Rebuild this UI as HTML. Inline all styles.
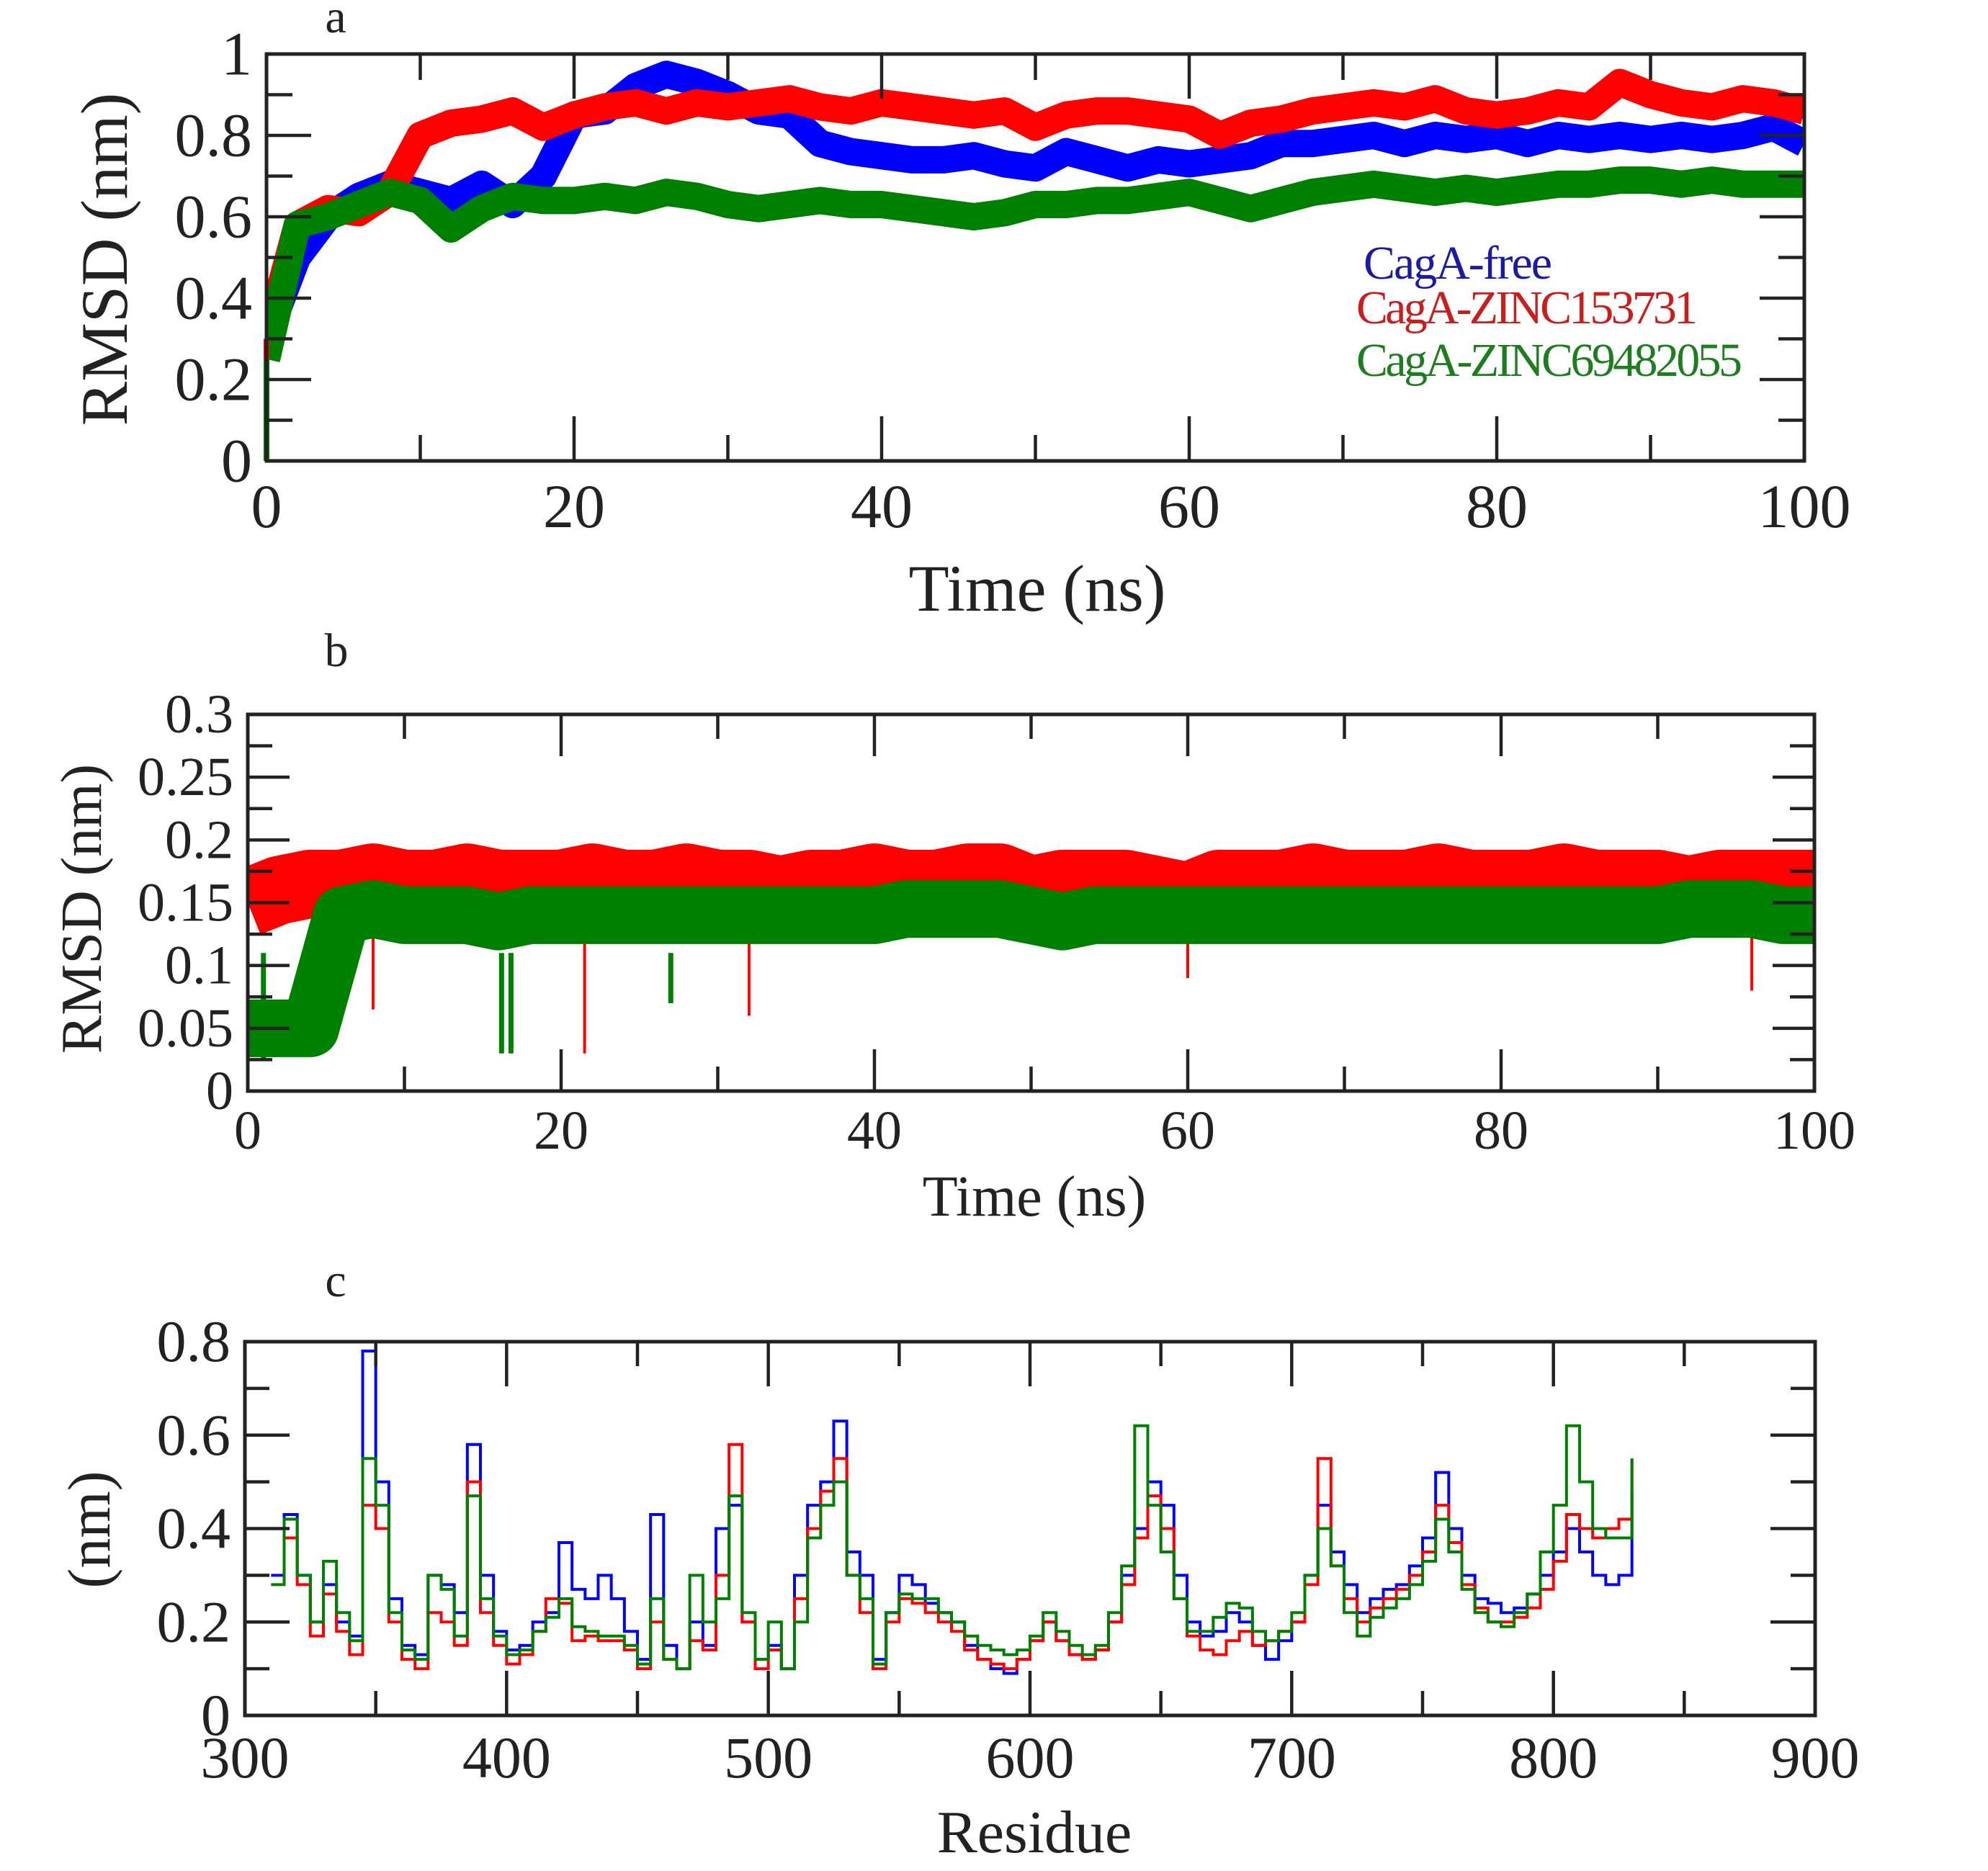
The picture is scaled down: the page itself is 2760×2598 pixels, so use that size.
<!DOCTYPE html>
<html><head><meta charset="utf-8"><style>
html,body{margin:0;padding:0;background:#fff}
svg{display:block}
text{font-family:"Liberation Serif",serif;fill:#222}
</style></head><body>
<svg id="fig" width="2760" height="2598" viewBox="0 0 2760 2598" xmlns="http://www.w3.org/2000/svg">
<rect width="2760" height="2598" fill="#fff"/>
<text x="466" y="45" font-size="66" text-anchor="middle">a</text>
<text x="467" y="925" font-size="66" text-anchor="middle">b</text>
<text x="466" y="1800" font-size="66" text-anchor="middle">c</text>
<text x="1893" y="387" font-size="66" style="fill:#1a1aa6" textLength="262">CagA-free</text>
<text x="1883" y="449" font-size="66" style="fill:#c81e1e" textLength="474">CagA-ZINC153731</text>
<text x="1883" y="522" font-size="66" style="fill:#1e7d1e" textLength="536">CagA-ZINC69482055</text>
</svg>
<script>
// ---------- Panel a data (time every 2 ns) ----------
const timeStepA = 2;
const blueA = [0.30,0.50,0.60,0.65,0.68,0.66,0.64,0.68,0.63,0.70,
 0.85,0.86,0.92,0.95,0.93,0.90,0.86,0.85,0.78,0.76,
 0.75,0.74,0.74,0.75,0.73,0.72,0.76,0.74,0.72,0.74,
 0.73,0.74,0.75,0.78,0.78,0.79,0.80,0.78,0.80,0.79,
 0.80,0.78,0.80,0.79,0.80,0.79,0.80,0.79,0.80,0.82,0.78];
const redA = [0.30,0.58,0.62,0.61,0.66,0.80,0.83,0.84,0.86,0.82,
 0.85,0.87,0.88,0.86,0.88,0.87,0.88,0.89,0.87,0.86,
 0.88,0.87,0.86,0.85,0.86,0.82,0.85,0.86,0.86,0.85,
 0.84,0.80,0.83,0.84,0.86,0.87,0.88,0.87,0.89,0.86,
 0.85,0.86,0.88,0.87,0.93,0.90,0.88,0.87,0.89,0.88,0.86];
const greenA = [0.25,0.58,0.60,0.63,0.66,0.64,0.57,0.62,0.65,0.64,
 0.64,0.65,0.64,0.66,0.65,0.63,0.62,0.63,0.64,0.63,
 0.63,0.62,0.61,0.60,0.61,0.63,0.63,0.64,0.64,0.65,
 0.66,0.64,0.62,0.64,0.66,0.67,0.68,0.67,0.66,0.67,
 0.66,0.67,0.68,0.68,0.69,0.69,0.68,0.69,0.68,0.68,0.68];
const ticksA_x = ["0","20","40","60","80","100"];
const ticksA_y = ["0","0.2","0.4","0.6","0.8","1"];

// ---------- Panel b data ----------
const timeStepB = 2;
const redB = [0.15,0.16,0.165,0.165,0.17,0.165,0.165,0.17,0.165,0.165,
 0.165,0.17,0.165,0.165,0.17,0.165,0.165,0.16,0.165,0.165,
 0.17,0.165,0.165,0.17,0.17,0.16,0.165,0.165,0.165,0.16,
 0.155,0.165,0.165,0.165,0.17,0.165,0.165,0.165,0.17,0.165,
 0.165,0.165,0.17,0.165,0.165,0.165,0.16,0.165,0.165,0.165,0.165];
const greenB = [0.05,0.05,0.05,0.14,0.145,0.14,0.14,0.14,0.135,0.14,
 0.14,0.14,0.14,0.14,0.14,0.14,0.14,0.14,0.14,0.14,
 0.14,0.145,0.145,0.145,0.145,0.14,0.135,0.14,0.14,0.14,
 0.14,0.14,0.14,0.14,0.14,0.14,0.14,0.14,0.14,0.14,
 0.14,0.14,0.14,0.14,0.14,0.14,0.145,0.145,0.145,0.14,0.14];
const redSpikeT = [8,21.5,32,60,96];
const redSpikeV = [0.065,0.03,0.06,0.09,0.08];
const greenSpikeT = [1,16.2,16.8,27];
const greenSpikeV = [0.025,0.03,0.03,0.07];
const ticksB_x = ["0","20","40","60","80","100"];
const ticksB_y = ["0","0.05","0.1","0.15","0.2","0.25","0.3"];

// ---------- Panel c data (residue every 5) ----------
const resStart = 310, resStep = 5;
const blueC = [0.30,0.43,0.30,0.20,0.28,0.20,0.17,0.78,0.50,0.25,
 0.15,0.13,0.30,0.28,0.22,0.58,0.30,0.18,0.14,0.15,
 0.20,0.22,0.37,0.27,0.25,0.30,0.25,0.18,0.12,0.43,
 0.15,0.10,0.20,0.15,0.40,0.45,0.20,0.12,0.15,0.10,
 0.30,0.45,0.50,0.63,0.35,0.30,0.12,0.22,0.30,0.28,
 0.24,0.22,0.20,0.15,0.12,0.10,0.09,0.12,0.16,0.20,
 0.16,0.13,0.12,0.14,0.20,0.30,0.40,0.50,0.45,0.30,
 0.20,0.17,0.18,0.22,0.20,0.15,0.12,0.16,0.20,0.30,
 0.45,0.35,0.28,0.22,0.25,0.27,0.28,0.32,0.38,0.52,
 0.40,0.30,0.25,0.24,0.22,0.23,0.26,0.30,0.35,0.40,
 0.35,0.30,0.28,0.30,0.47];
const redC = [0.40,0.38,0.28,0.17,0.26,0.18,0.13,0.45,0.40,0.20,
 0.12,0.10,0.22,0.20,0.15,0.50,0.22,0.15,0.11,0.13,
 0.18,0.25,0.24,0.16,0.17,0.16,0.16,0.14,0.10,0.20,
 0.12,0.10,0.16,0.14,0.30,0.58,0.20,0.10,0.14,0.10,
 0.25,0.40,0.48,0.55,0.30,0.22,0.10,0.20,0.25,0.24,
 0.22,0.20,0.18,0.14,0.12,0.11,0.10,0.12,0.16,0.20,
 0.16,0.13,0.12,0.14,0.20,0.28,0.38,0.47,0.40,0.25,
 0.17,0.14,0.13,0.16,0.18,0.15,0.16,0.18,0.20,0.28,
 0.55,0.32,0.25,0.20,0.23,0.25,0.27,0.30,0.35,0.45,
 0.37,0.28,0.23,0.20,0.20,0.21,0.23,0.27,0.33,0.43,
 0.40,0.38,0.40,0.42,0.55];
const greenC = [0.28,0.42,0.30,0.20,0.33,0.22,0.16,0.55,0.45,0.22,
 0.14,0.12,0.30,0.27,0.17,0.47,0.25,0.17,0.13,0.14,
 0.18,0.21,0.25,0.19,0.18,0.17,0.17,0.15,0.11,0.25,
 0.12,0.10,0.30,0.20,0.25,0.47,0.22,0.12,0.20,0.10,
 0.20,0.38,0.45,0.50,0.30,0.25,0.11,0.22,0.26,0.25,
 0.25,0.22,0.20,0.17,0.15,0.14,0.13,0.14,0.17,0.22,
 0.18,0.15,0.13,0.15,0.22,0.32,0.62,0.45,0.35,0.25,
 0.18,0.18,0.21,0.24,0.23,0.18,0.16,0.18,0.22,0.30,
 0.40,0.32,0.22,0.17,0.21,0.23,0.25,0.28,0.33,0.42,
 0.35,0.27,0.22,0.20,0.19,0.22,0.26,0.35,0.45,0.62,
 0.50,0.40,0.38,0.38,0.55];
const ticksC_x = ["300","400","500","600","700","800","900"];
const ticksC_y = ["0","0.2","0.4","0.6","0.8"];

const NS = "http://www.w3.org/2000/svg";
const svg = document.getElementById("fig");
function mk(tag, attrs, parent){
  const e = document.createElementNS(NS, tag);
  for (const k in attrs) e.setAttribute(k, attrs[k]);
  (parent||svg).appendChild(e);
  return e;
}
function axes(P){
  const sx = v => P.L + (v - P.x0)/(P.x1 - P.x0)*(P.R - P.L);
  const sy = v => P.B - (v - P.y0)/(P.y1 - P.y0)*(P.B - P.T);
  return {sx, sy};
}
function drawFrame(P, ax, name, xt, yt){
  const g = mk("g", {});
  
  
  for (let v = P.x0; v <= P.x1 + 1e-9; v += P.xminor){
    const major = Math.abs(((v - P.x0)/P.xmajor) - Math.round((v - P.x0)/P.xmajor)) < 1e-6;
    const len = major ? P.maj : P.min;
    const x = ax.sx(v);
    mk("line", {x1:x, y1:P.B, x2:x, y2:P.B-len, stroke:"#222", "stroke-width":4.5}, g);
    mk("line", {x1:x, y1:P.T, x2:x, y2:P.T+len, stroke:"#222", "stroke-width":4.5}, g);
  }
  for (let v = P.y0; v <= P.y1 + 1e-9; v += P.yminor){
    const major = Math.abs(((v - P.y0)/P.ymajor) - Math.round((v - P.y0)/P.ymajor)) < 1e-6;
    const len = major ? P.maj : P.min;
    const y = ax.sy(v);
    mk("line", {x1:P.L, y1:y, x2:P.L+len, y2:y, stroke:"#222", "stroke-width":4.5}, g);
    mk("line", {x1:P.R, y1:y, x2:P.R-len, y2:y, stroke:"#222", "stroke-width":4.5}, g);
  }
  mk("rect", {x:P.L, y:P.T, width:P.R-P.L, height:P.B-P.T, fill:"none", stroke:"#222", "stroke-width":5}, g);
  xt.forEach((t,i) => {
    const tx = mk("text", {x:ax.sx(P.x0 + i*P.xmajor), y:P.B + P.xlabDy, "font-size":P.fs, "text-anchor":"middle"});
    
    
    tx.textContent = t;
  });
  yt.forEach((t,i) => {
    const tx = mk("text", {x:P.L - 20, y:ax.sy(P.y0 + i*P.ymajor) + P.fs*0.33, "font-size":P.fs, "text-anchor":"end"});
    
    
    tx.textContent = t;
  });
  const xl = mk("text", {x:P.xtX, y:P.xtY, "font-size":P.tfs, "text-anchor":"middle"});
  
  
  xl.textContent = P.xtitle;
  const yl = mk("text", {x:0, y:0, "font-size":P.tfs, "text-anchor":"middle", transform:`translate(${P.ytX},${P.ytY}) rotate(-90)`});
  
  
  yl.textContent = P.ytitle;
}
function pathFrom(xs, ys, ax, step){
  let d = "";
  for (let i=0;i<ys.length;i++){
    const X = ax.sx(xs[i]), Y = ax.sy(ys[i]);
    if (i===0) d += `M${X},${Y}`;
    else if (step) d += `H${X}V${Y}`;
    else d += `L${X},${Y}`;
  }
  return d;
}
const clipDefs = mk("defs", {});
function clipFor(P, id){
  const c = mk("clipPath", {id}, clipDefs);
  mk("rect", {x:P.L, y:P.T, width:P.R-P.L, height:P.B-P.T}, c);
}

// ===== Panel a =====
const PA = {L:370,R:2505,T:75,B:640,x0:0,x1:100,y0:0,y1:1,xmajor:20,xminor:10,ymajor:0.2,yminor:0.1,maj:62,min:36,fs:86,tfs:92,xlabDy:92,
  xtitle:"Time (ns)", ytitle:"RMSD (nm)", xtX:1440, xtY:848, ytX:176, ytY:360};
const axA = axes(PA);
clipFor(PA, "clipA");
const tA = blueA.map((_,i)=>i*timeStepA);
[[blueA,"#0000ff","series-cagA-free"],[redA,"#ff0000","series-zinc153731"],[greenA,"#008000","series-zinc69482055"]].forEach(([arr,col,nm])=>{
  const p = mk("path", {d:pathFrom(tA, arr, axA, false), fill:"none", stroke:col, "stroke-width":38, "stroke-linejoin":"round", "clip-path":"url(#clipA)"});
  
  
});
[[blueA,"#0000ff"],[redA,"#ff0000"],[greenA,"#008000"]].forEach(([arr,col])=>{
  const l = mk("line", {x1:axA.sx(0), y1:axA.sy(0), x2:axA.sx(0), y2:axA.sy(arr[0]), stroke:col, "stroke-width":8});
  
  
});
drawFrame(PA, axA, "panel-a", ticksA_x, ticksA_y);

// ===== Panel b =====
const PB = {L:344,R:2519,T:992,B:1515,x0:0,x1:100,y0:0,y1:0.3,xmajor:20,xminor:10,ymajor:0.05,yminor:0.025,maj:58,min:34,fs:76,tfs:80,xlabDy:80,
  xtitle:"Time (ns)", ytitle:"RMSD (nm)", xtX:1436, xtY:1688, ytX:140, ytY:1262};
const axB = axes(PB);
clipFor(PB, "clipB");
const tB = redB.map((_,i)=>i*timeStepB);
let p = mk("path", {d:pathFrom(tB, redB, axB, false), fill:"none", stroke:"#ff0000", "stroke-width":95, "stroke-linejoin":"round", "clip-path":"url(#clipB)"});


redSpikeT.forEach((t,i)=>{
  const l = mk("line", {x1:axB.sx(t), y1:axB.sy(0.13), x2:axB.sx(t), y2:axB.sy(redSpikeV[i]), stroke:"#ff0000", "stroke-width":4});
  
  
});
p = mk("path", {d:pathFrom(tB, greenB, axB, false), fill:"none", stroke:"#008000", "stroke-width":80, "stroke-linejoin":"round", "clip-path":"url(#clipB)"});


greenSpikeT.forEach((t,i)=>{
  const l = mk("line", {x1:axB.sx(t), y1:axB.sy(0.11), x2:axB.sx(t), y2:axB.sy(greenSpikeV[i]), stroke:"#008000", "stroke-width":7});
  
  
});
drawFrame(PB, axB, "panel-b", ticksB_x, ticksB_y);

// ===== Panel c =====
const PC = {L:340,R:2520,T:1863,B:2382,x0:300,x1:900,y0:0,y1:0.8,xmajor:100,xminor:50,ymajor:0.2,yminor:0.1,maj:62,min:34,fs:82,tfs:84,xlabDy:86,
  xtitle:"Residue", ytitle:"(nm)", xtX:1436, xtY:2572, ytX:152, ytY:2124};
const axC = axes(PC);
clipFor(PC, "clipC");
const resC = blueC.map((_,i)=>resStart + i*resStep);
[[blueC,"#0000ff","series-cagA-free"],[redC,"#ff0000","series-zinc153731"],[greenC,"#008000","series-zinc69482055"]].forEach(([arr,col,nm])=>{
  const q = mk("path", {d:pathFrom(resC, arr, axC, true), fill:"none", stroke:col, "stroke-width":4, "clip-path":"url(#clipC)"});
  
  
});
drawFrame(PC, axC, "panel-c", ticksC_x, ticksC_y);
</script>
</body></html>
